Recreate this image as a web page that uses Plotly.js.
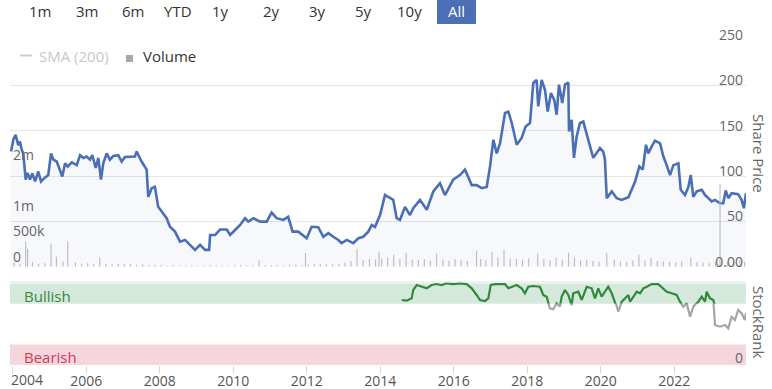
<!DOCTYPE html>
<html><head><meta charset="utf-8">
<script src="https://cdn.plot.ly/plotly-3.0.1.min.js"></script>
<style>html,body{margin:0;padding:0;background:#fff}#chart{width:772px;height:389px}</style>
</head><body><div id="chart"></div>
<script>
// ---------------- DATA ----------------
const priceDates = ['2003-12-15','2004-01-07','2004-01-30','2004-02-25','2004-03-13','2004-03-30','2004-04-15','2004-05-09','2004-05-28','2004-06-21','2004-07-14','2004-08-10','2004-09-11','2004-10-08','2004-11-10','2004-12-19',
'2005-01-16','2005-02-08','2005-03-13','2005-04-15','2005-05-08','2005-06-04','2005-07-01','2005-08-10','2005-09-28','2005-10-31','2005-12-03',
'2006-01-05','2006-02-07','2006-03-02','2006-04-05','2006-05-01','2006-05-27','2006-06-19','2006-07-23','2006-08-24','2006-09-26','2006-11-15','2006-12-19',
'2007-01-21','2007-03-11','2007-04-30','2007-05-17','2007-07-05','2007-08-24','2007-09-09','2007-10-13','2007-11-14','2007-12-17',
'2008-01-20','2008-03-10','2008-04-12','2008-06-01','2008-07-21','2008-09-09','2008-10-28','2008-12-17',
'2009-02-05','2009-03-27','2009-05-06','2009-05-16','2009-07-05','2009-08-23','2009-10-28','2009-12-01',
'2010-01-19','2010-03-10','2010-04-28','2010-05-31','2010-07-20','2010-09-24','2010-11-29',
'2011-01-17','2011-03-08','2011-05-13','2011-07-01','2011-08-14','2011-10-09','2011-11-27',
'2012-01-01','2012-02-19','2012-04-25','2012-06-14','2012-08-03','2012-09-21','2012-11-10','2012-12-13',
'2013-02-02','2013-04-08','2013-05-28','2013-07-16','2013-09-04','2013-10-08','2013-11-10','2013-12-30',
'2014-02-17','2014-03-21','2014-05-10','2014-06-13','2014-07-16','2014-09-04','2014-10-23','2014-11-25',
'2015-01-31','2015-04-08','2015-06-12','2015-08-17','2015-10-06','2015-12-27',
'2016-03-03','2016-04-22','2016-06-28','2016-08-16','2016-10-05','2016-11-24','2016-12-27',
'2017-01-29','2017-03-03','2017-04-05','2017-05-25','2017-06-27','2017-07-31','2017-09-18','2017-11-06','2017-12-16',
'2018-01-28','2018-03-02','2018-04-04','2018-04-20','2018-05-24','2018-06-26','2018-07-23','2018-08-24','2018-09-26','2018-10-20','2018-11-12','2018-12-15',
'2019-01-11','2019-02-13','2019-02-20','2019-03-18','2019-04-10','2019-05-07','2019-06-09','2019-07-12','2019-08-15','2019-09-17','2019-10-19','2019-11-22','2019-12-25',
'2020-01-26','2020-02-12','2020-03-01','2020-04-20','2020-06-08','2020-07-28','2020-10-02','2020-11-05','2020-12-08',
'2021-01-19','2021-02-22','2021-03-26','2021-04-18','2021-05-22','2021-06-24','2021-08-13','2021-09-15','2021-10-11','2021-11-20','2021-12-23',
'2022-02-11','2022-03-06','2022-04-18','2022-05-21','2022-06-14','2022-07-09','2022-08-12','2022-10-01','2022-11-03','2022-12-06',
'2023-01-08','2023-02-10','2023-04-01','2023-05-03','2023-05-27','2023-06-22','2023-07-25','2023-09-28','2023-11-01','2023-11-24','2023-12-15'];
const priceValues = [127,140,145.5,134,138,129,125,96,103.5,96,103,94,105,94,97.7,101,
125,118,116,107,99.5,114,110.5,115,112,123,120,
121.5,118,123,109,120,96,114,125,118,122,123,116,
121,121.5,121.5,127,116,107,77,86.6,88,66,
61,53.5,44,38.7,27.6,29.5,24,18.5,
24,18.5,18.5,35,35,41,41,35,
40.5,46,53.5,49.7,53.5,49.7,49.7,
59.7,53.5,51.6,55,38.7,38.7,35,
31.4,44,43.5,33,37,33,29.5,26,
29.5,26,31.4,33,38.7,46,44,57,
79,77,73.7,53.5,51.6,66,57,64.5,
73.7,62.7,83,92,79,96,
101,107,90,90,86.6,88,110.5,
140,125,136,169.5,171,158.5,134.5,142,154.7,
158.5,202.6,206,176.8,206,195,171,191.6,184,167.6,200.8,180.5,
200.8,203,149,162,120,143.6,158.5,160,147.4,132.6,120,125,130.8,
127,118,75.6,83,75.6,73.7,76.7,86.6,94,
110.5,107,134.5,125,132.6,139,136,121.5,114,101,112,
114,84.8,79,88,101,77,83,84.8,79,75.6,
72,73.7,70,70,84,75.6,81,80,73.7,64.5,81];

const rankDates = ['2014-08-02','2014-09-21','2014-11-09','2014-11-25','2014-12-29','2015-02-17','2015-04-08','2015-05-27','2015-07-15','2015-09-03','2015-10-23','2015-12-27',
'2016-03-03','2016-05-09','2016-06-28','2016-08-16','2016-09-18','2016-11-07','2016-12-10','2017-01-03','2017-02-15','2017-04-05','2017-05-25','2017-06-27','2017-07-31','2017-09-18','2017-11-06','2017-12-09',
'2018-01-11','2018-03-02','2018-05-07','2018-06-09','2018-07-13','2018-08-14','2018-09-16','2018-10-20','2018-11-22','2018-12-09',
'2019-01-11','2019-02-13','2019-03-18','2019-04-03','2019-05-23','2019-06-26','2019-08-15','2019-10-03','2019-11-05','2019-12-08',
'2020-01-10','2020-02-12','2020-03-16','2020-04-19','2020-05-22','2020-06-24','2020-07-28','2020-08-30','2020-10-02','2020-10-19','2020-11-21','2020-12-25',
'2021-01-26','2021-02-28','2021-04-03','2021-05-22','2021-07-26','2021-09-15','2021-10-18','2021-12-07',
'2022-01-25','2022-02-27','2022-04-01','2022-05-05','2022-06-07','2022-07-09','2022-08-28','2022-10-01','2022-11-03','2022-11-19','2022-12-22',
'2023-01-24','2023-02-10','2023-04-01','2023-05-20','2023-06-22','2023-07-25','2023-08-27','2023-09-28','2023-11-01','2023-12-04','2023-12-14'];
const rankValues = [79.6,78.7,81.6,91.8,97.9,95.8,93.9,97.9,99.1,97.9,100,99,
100,99,93.9,85.7,79.6,78.3,81.6,97.9,99,99,99,93.9,95.8,97.9,93.9,87.8,
95.8,96.7,95.8,85.7,83.6,69.4,68.2,75.5,71.4,83.6,
91.8,85.7,73.4,87.8,89.7,79.6,95.8,93.9,81.6,93.9,
83.6,89.7,95.8,87.8,79.6,65.2,77.5,81.6,85.7,77.5,83.6,89.7,
87.8,93.9,95.8,99,99,93.9,89.7,87.8,
85.7,77.5,71.4,75.5,59.1,71.4,77.5,83.6,77.5,89.7,81.6,
79.6,49,46.9,49,44.9,59.1,55.1,67.3,63.3,55.1,63.3];

// volume in thousands of shares
const volumeDates = ['2004-01-15','2004-03-15','2004-05-09','2004-05-28','2004-07-15','2004-09-15','2004-11-15',
'2005-01-16','2005-03-10','2005-05-15','2005-07-01','2005-09-15','2005-11-15',
'2006-01-15','2006-03-15','2006-05-15','2006-07-15','2006-09-15','2006-11-15',
'2007-01-15','2007-03-15','2007-05-15','2007-07-15','2007-09-15','2007-11-15',
'2008-01-15','2008-03-15','2008-05-15','2008-07-15','2008-09-15','2008-11-15',
'2009-01-15','2009-03-15','2009-05-15','2009-07-15','2009-09-15','2009-11-15',
'2010-01-15','2010-03-15','2010-05-15','2010-07-15','2010-09-15','2010-11-15',
'2011-01-15','2011-03-15','2011-05-15','2011-07-15','2011-09-15','2011-11-15','2011-12-20',
'2012-01-15','2012-03-15','2012-05-15','2012-07-15','2012-09-15','2012-11-15',
'2013-01-15','2013-03-15','2013-05-15','2013-07-15','2013-09-15','2013-11-15','2013-12-20',
'2014-01-15','2014-03-15','2014-05-15','2014-07-15','2014-09-15','2014-11-15',
'2015-01-15','2015-03-15','2015-05-15','2015-07-15','2015-09-15','2015-11-15',
'2016-01-15','2016-03-15','2016-05-15','2016-08-15','2016-09-25','2016-11-15',
'2017-01-15','2017-03-15','2017-05-15','2017-07-15','2017-09-15','2017-11-15',
'2018-01-15','2018-04-15','2018-06-15','2018-08-15','2018-10-15','2018-12-15',
'2019-02-15','2019-04-15','2019-06-15','2019-08-15','2019-10-15','2019-12-15',
'2020-03-01','2020-05-15','2020-07-15','2020-09-15','2020-11-15',
'2021-01-15','2021-03-15','2021-05-15','2021-07-15','2021-09-15','2021-11-15',
'2022-01-15','2022-03-15','2022-06-15','2022-08-15','2022-10-15','2022-12-15',
'2023-02-15','2023-04-01','2023-06-15','2023-08-15','2023-10-15','2023-12-01'];
const volumeValues = [80,60,490,350,90,60,70,
450,200,100,490,80,60,
70,50,175,60,50,60,
50,60,40,50,30,40,
30,20,30,20,25,20,
20,25,30,20,25,20,
25,30,20,25,120,30,
35,30,25,40,45,30,270,
40,50,60,45,50,60,
80,110,350,130,150,140,300,
160,180,235,150,275,140,
130,150,120,255,140,120,
150,130,110,315,150,130,
295,180,335,160,150,140,
160,255,150,130,170,140,
275,170,120,130,110,100,
275,140,100,90,120,
235,120,175,110,100,90,
80,100,175,90,80,70,
90,1630,100,110,130,90];

const rangeButtons = ['1m','3m','6m','YTD','1y','2y','3y','5y','10y','All'];
const yearTicks = ['2004-01-01','2006-01-01','2008-01-01','2010-01-01','2012-01-01','2014-01-01','2016-01-01','2018-01-01','2020-01-01','2022-01-01'];
const yearLabels = ['2004','2006','2008','2010','2012','2014','2016','2018','2020','2022'];
const priceTicks = [0,50,100,150,200,250];
const priceTickLabels = ['0.00','50','100','150','200','250'];
const volumeTicks = [0,500000,1000000,2000000];
const volumeTickLabels = ['0','500k','1m','2m'];
const rankTicks = [0];
const rankTickLabels = ['0'];
const legendLabels = ['SMA (200)','Volume'];
const bandLabels = ['Bullish','Bearish'];
const axisTitles = ['Share Price','StockRank'];

// ---------------- LAYOUT HELPERS ----------------
const W = 772, H = 389, ML = 10, MR = 26, MT = 40, MB = 24;
const PW = W - ML - MR, PH = H - MT - MB;
const X = px => (px - ML) / PW;
const Y = py => (H - MB - py) / PH;
const FONT = 'Open Sans, Noto Sans, sans-serif';

const rankBot = Y(365), rankTop = Y(283.3);
const rankPxPerUnit = (365 - 283.3) / 100;
const splitPaper = Y(365 - 75 * rankPxPerUnit);
const greenTopVal = 102;
const greenTopPaper = Y(365 - greenTopVal * rankPxPerUnit);

const traces = [
  {type:'scatter', mode:'lines', x:priceDates, y:priceValues, xaxis:'x', yaxis:'y',
   line:{color:'#4a6fb5', width:2.6}, fill:'tozeroy', fillcolor:'rgba(74,111,181,0.05)', hoverinfo:'skip'},
  {type:'bar', x:volumeDates, y:volumeValues.map(v => v * 1000), xaxis:'x', yaxis:'y2',
   marker:{color:'#bdbdbd', line:{width:0}}, width:1.0e9, hoverinfo:'skip'},
  {type:'scatter', mode:'lines', x:rankDates, y:rankValues, xaxis:'x', yaxis:'y4',
   line:{color:'#2f8a3c', width:2.2}, hoverinfo:'skip'},
  {type:'scatter', mode:'lines', x:rankDates, y:rankValues, xaxis:'x', yaxis:'y5',
   line:{color:'#a5a5a5', width:2.2}, hoverinfo:'skip'}
];

const tickFont = {family:FONT, size:14, color:'#666'};

const layout = {
  width:W, height:H, margin:{l:ML, r:MR, t:MT, b:MB, pad:0},
  paper_bgcolor:'#fff', plot_bgcolor:'rgba(0,0,0,0)', showlegend:false,
  font:{family:FONT},
  xaxis:{type:'date', range:['2003-12-05','2023-12-15'], anchor:'y3', domain:[0,1],
    tickvals:yearTicks, ticktext:yearLabels.map((t,i) => i === 0 ? '' : t),
    ticks:'outside', ticklen:7, tickcolor:'#d6d6d6', tickfont:{family:FONT, size:14, color:'#555'},
    ticklabelstandoff:-4,
    showgrid:false, zeroline:false, showline:false, fixedrange:true},
  yaxis:{domain:[Y(266.7), 1], range:[0,250], side:'right', anchor:'x',
    tickvals:priceTicks, ticktext:priceTickLabels, ticklabelposition:'inside top', ticks:'',
    ticklabeloverflow:'allow', ticklabelshift:5,
    tickfont:tickFont, gridcolor:'#e6e6e6', gridwidth:1, zeroline:false, showline:false, fixedrange:true},
  yaxis2:{overlaying:'y', side:'left', anchor:'x', range:[0, 4.44e6],
    tickvals:volumeTicks, ticktext:volumeTickLabels, ticklabelposition:'inside top', ticks:'',
    ticklabeloverflow:'allow',
    tickfont:tickFont, showgrid:false, zeroline:false, showline:false, fixedrange:true},
  yaxis3:{domain:[rankBot, rankTop], range:[0,100], side:'right', anchor:'x',
    tickvals:rankTicks, ticktext:rankTickLabels, ticklabelposition:'inside top', ticks:'',
    ticklabeloverflow:'allow', ticklabelshift:3,
    tickfont:tickFont, showgrid:false, zeroline:false, showline:false, fixedrange:true},
  yaxis4:{domain:[splitPaper, greenTopPaper], range:[75, greenTopVal], anchor:'x', visible:false, fixedrange:true},
  yaxis5:{domain:[rankBot, splitPaper], range:[0,75], anchor:'x', visible:false, fixedrange:true},
  shapes:[
    {type:'rect', xref:'paper', yref:'y3', x0:0, x1:1, y0:75, y1:100, fillcolor:'#d5e8dc', line:{width:0}, layer:'below'},
    {type:'rect', xref:'paper', yref:'y3', x0:0, x1:1, y0:0, y1:25, fillcolor:'#f5d6dc', line:{width:0}, layer:'below'},
    {type:'line', xref:'paper', yref:'paper', x0:0, x1:1, y0:Y(282), y1:Y(282), line:{color:'#e3e3e3', width:1}},
    {type:'rect', xref:'paper', yref:'paper', x0:X(437), x1:X(476), y0:Y(24), y1:Y(0), fillcolor:'#4a6fb5', line:{width:0}},
    {type:'line', xref:'paper', yref:'paper', x0:X(20), x1:X(32), y0:Y(55.5), y1:Y(55.5), line:{color:'#cccccc', width:2}},
    {type:'rect', xref:'paper', yref:'paper', x0:X(126), x1:X(133), y0:Y(62), y1:Y(55), fillcolor:'#a8a8a8', line:{width:0}}
  ],
  annotations:[]
};

const btnX = [40,87,133,178,220,271,317,363,409,456];
rangeButtons.forEach((b,i) => {
  layout.annotations.push({text:b, xref:'paper', yref:'paper', x:X(btnX[i]), y:Y(11.5), showarrow:false,
    xanchor:'center', yanchor:'middle', font:{family:FONT, size:15, color: i === rangeButtons.length-1 ? '#ffffff' : '#333'}});
});
layout.annotations.push(
  {text:legendLabels[0], xref:'paper', yref:'paper', x:X(37), y:Y(56), showarrow:false, xanchor:'left', yanchor:'middle',
   font:{family:FONT, size:15, color:'#c8c8c8'}},
  {text:legendLabels[1], xref:'paper', yref:'paper', x:X(141), y:Y(56), showarrow:false, xanchor:'left', yanchor:'middle',
   font:{family:FONT, size:15, color:'#333'}},
  {text:yearLabels[0], xref:'paper', yref:'paper', x:X(27), y:Y(379.5), showarrow:false, xanchor:'center', yanchor:'middle',
   borderpad:0, font:{family:FONT, size:14, color:'#555'}},
  {text:bandLabels[0], xref:'paper', yref:'paper', x:X(22), y:Y(296), showarrow:false, xanchor:'left', yanchor:'middle',
   font:{family:FONT, size:15, color:'#3b873d'}},
  {text:bandLabels[1], xref:'paper', yref:'paper', x:X(22), y:Y(357), showarrow:false, xanchor:'left', yanchor:'middle',
   font:{family:FONT, size:15, color:'#d23a5c'}},
  {text:axisTitles[0], xref:'paper', yref:'paper', x:X(759), y:Y(153), showarrow:false, textangle:90, xanchor:'center', yanchor:'middle',
   font:{family:FONT, size:15, color:'#666'}},
  {text:axisTitles[1], xref:'paper', yref:'paper', x:X(759), y:Y(322), showarrow:false, textangle:90, xanchor:'center', yanchor:'middle',
   font:{family:FONT, size:15, color:'#666'}}
);

Plotly.newPlot('chart', traces, layout, {displayModeBar:false, staticPlot:true});
</script>
</body></html>
